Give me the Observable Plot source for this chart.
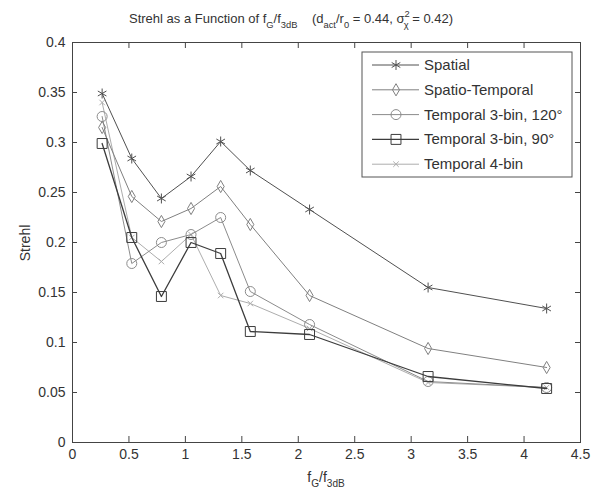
<!DOCTYPE html>
<html><head><meta charset="utf-8">
<script src="https://cdn.jsdelivr.net/npm/d3@7"></script>
<script src="https://cdn.jsdelivr.net/npm/@observablehq/plot@0.6"></script>
<style>
body{margin:0;background:#fff}
svg{font-family:"Liberation Sans",Arial,sans-serif}
</style>
</head><body><div id="chart"></div>
<script>
// ---- data ----
const xValues = [0.2625, 0.525, 0.7875, 1.05, 1.3125, 1.575, 2.1, 3.15, 4.2];
const spatial        = [0.349, 0.284, 0.244, 0.266, 0.301, 0.272, 0.233, 0.155, 0.134];
const spatioTemporal = [0.315, 0.246, 0.221, 0.234, 0.256, 0.218, 0.147, 0.094, 0.075];
const temporal120    = [0.326, 0.179, 0.200, 0.208, 0.225, 0.151, 0.118, 0.061, 0.055];
const temporal90     = [0.299, 0.205, 0.146, 0.200, 0.189, 0.111, 0.108, 0.066, 0.054];
const temporal4bin   = [0.340, 0.205, 0.181, 0.208, 0.147, 0.139, 0.114, 0.060, 0.055];
const seriesNames = ["Spatial", "Spatio-Temporal", "Temporal 3-bin, 120°", "Temporal 3-bin, 90°", "Temporal 4-bin"];
const xTicks = [0, 0.5, 1, 1.5, 2, 2.5, 3, 3.5, 4, 4.5];
const yTicks = [0, 0.05, 0.1, 0.15, 0.2, 0.25, 0.3, 0.35, 0.4];

// ---- styles ----
const seriesValues = [spatial, spatioTemporal, temporal120, temporal90, temporal4bin];
const colors  = ["#505050", "#808080", "#8c8c8c", "#3c3c3c", "#adadad"];
const symbols = ["asterisk", "diamond", "circle", "square", "times"];
const radii   = [4.7, 3.7, 5, 5.6, 2.6];
const widths  = [1, 1, 1, 1.3, 1];
const drawOrder = [4, 2, 1, 3, 0];

const rows = [];
seriesValues.forEach((vals, s) => vals.forEach((v, i) => rows.push({series: seriesNames[s], x: xValues[i], y: v})));

const marks = [
  Plot.frame({stroke: "#444"}),
  Plot.axisX(xTicks, {anchor: "bottom", tickSize: 0, tickPadding: 7, label: null, fontSize: 14, tickFormat: d => String(d)}),
  Plot.axisY(yTicks, {anchor: "left", tickSize: 0, tickPadding: 7, label: null, fontSize: 14, tickFormat: d => String(d)}),
  Plot.tickX(xTicks, {x: d => d, insetTop: 394, stroke: "#444"}),
  Plot.tickX(xTicks, {x: d => d, insetBottom: 394, stroke: "#444"}),
  Plot.tickY(yTicks, {y: d => d, insetRight: 503, stroke: "#444"}),
  Plot.tickY(yTicks, {y: d => d, insetLeft: 503, stroke: "#444"})
];
for (const s of drawOrder) {
  const d = rows.filter(r => r.series === seriesNames[s]);
  marks.push(Plot.line(d, {x: "x", y: "y", stroke: colors[s], strokeWidth: widths[s]}));
  marks.push(Plot.dot(d, {x: "x", y: "y", symbol: () => symbols[s], r: radii[s], stroke: colors[s], fill: "none", strokeWidth: 1}));
}

const svgNode = Plot.plot({
  width: 593, height: 491,
  marginLeft: 72, marginRight: 13, marginTop: 42, marginBottom: 49,
  style: {fontFamily: "Liberation Sans, Arial, sans-serif", fontSize: "14px", color: "#333", background: "white", overflow: "visible"},
  x: {domain: [0, 4.5]},
  y: {domain: [0, 0.4]},
  marks
});
document.getElementById("chart").appendChild(svgNode);

const svg = d3.select(svgNode);

// rich text helper: parts = [text, kind, dx] kind: n | sub | sup
function rich(x, y, parts, opts = {}) {
  const t = svg.append("text").attr("x", x).attr("y", y)
    .attr("font-size", opts.size || 15).attr("fill", "#333")
    .attr("text-anchor", opts.anchor || "start");
  let cur = 0;
  for (const [txt, kind, dx] of parts) {
    const target = kind === "sub" ? 5 : kind === "sup" ? -6 : 0;
    const ts = t.append("tspan").text(txt).attr("dy", target - cur);
    if (dx) ts.attr("dx", dx);
    if (kind !== "n") ts.attr("font-size", (opts.size || 15) * 0.72);
    cur = target;
  }
  return t;
}

// title
rich(129, 23, [
  ["Strehl as a Function of f", "n"], ["G", "sub"], ["/f", "n"], ["3dB", "sub"],
  ["\u00a0\u00a0\u00a0\u00a0(d", "n"], ["act", "sub"], ["/r", "n"], ["0", "sub"],
  [" = 0.44, σ", "n"], ["2", "sup"], ["χ", "sub", -6], [" = 0.42)", "n"]
], {size: 13});

// x label
rich(326, 482, [["f", "n"], ["G", "sub"], ["/f", "n"], ["3dB", "sub"]], {anchor: "middle", size: 14});

// y label
svg.append("text").attr("transform", "translate(30,243) rotate(-90)")
  .attr("text-anchor", "middle").attr("font-size", 14).attr("fill", "#333").text("Strehl");

// legend
const lg = svg.append("g").attr("text-anchor", "start");
lg.append("rect").attr("x", 362).attr("y", 52).attr("width", 210).attr("height", 125)
  .attr("fill", "white").attr("stroke", "#555");
seriesNames.forEach((name, s) => {
  const cy = 65 + s * 24.8;
  lg.append("line").attr("x1", 372).attr("x2", 419).attr("y1", cy).attr("y2", cy)
    .attr("stroke", colors[s]).attr("stroke-width", widths[s]);
  const sym = {asterisk: d3.symbolAsterisk, diamond: d3.symbolDiamond, circle: d3.symbolCircle, square: d3.symbolSquare, times: d3.symbolTimes}[symbols[s]];
  lg.append("path").attr("d", d3.symbol(sym, Math.PI * radii[s] * radii[s])())
    .attr("transform", `translate(396,${cy})`).attr("fill", "none").attr("stroke", colors[s]);
  lg.append("text").attr("x", 424).attr("y", cy + 5).attr("font-size", 15).attr("fill", "#333")
    .attr("text-anchor", "start").text(name);
});
</script>
</body></html>
